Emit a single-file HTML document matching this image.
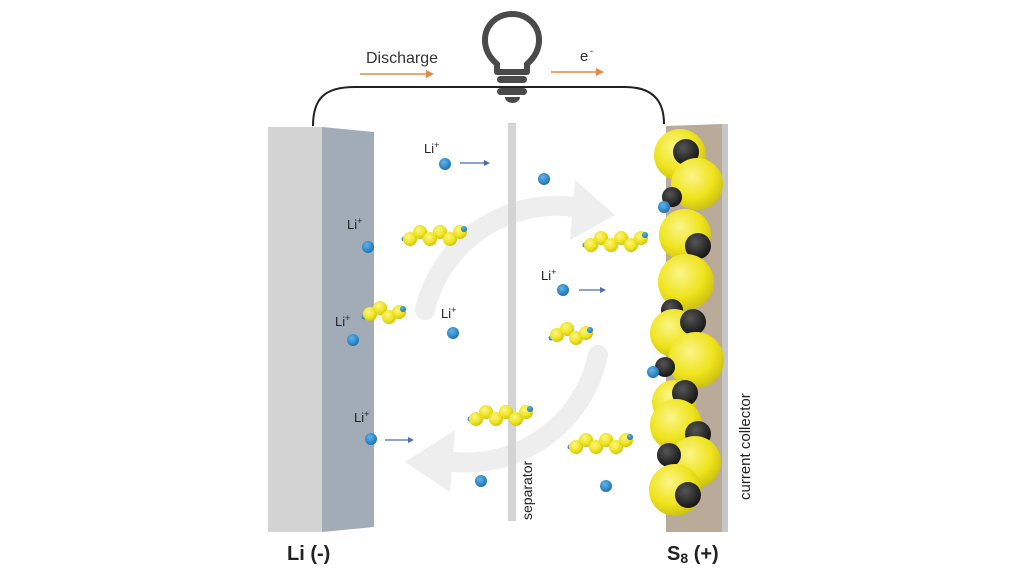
<!DOCTYPE html>
<html><head><style>html,body{margin:0;padding:0;background:#fff;}svg{display:block;font-family:"Liberation Sans",sans-serif;}</style></head>
<body>
<svg width="1024" height="576" viewBox="0 0 1024 576" xmlns="http://www.w3.org/2000/svg">
<defs>
<radialGradient id="y" cx="0.4" cy="0.35" r="0.7"><stop offset="0" stop-color="#fbf58a"/><stop offset="0.6" stop-color="#efe41c"/><stop offset="1" stop-color="#c9bd10"/></radialGradient>
<radialGradient id="k" cx="0.4" cy="0.35" r="0.7"><stop offset="0" stop-color="#555"/><stop offset="1" stop-color="#111"/></radialGradient>
<radialGradient id="b" cx="0.4" cy="0.35" r="0.7"><stop offset="0" stop-color="#5cb4ec"/><stop offset="1" stop-color="#1a6fb0"/></radialGradient>
<g id="chain5">
<circle cx="0" cy="5" r="2.5" fill="url(#b)"/>
<circle cx="6" cy="5" r="7" fill="url(#y)"/><circle cx="16" cy="-2" r="7" fill="url(#y)"/><circle cx="26" cy="5" r="7" fill="url(#y)"/><circle cx="36" cy="-2" r="7" fill="url(#y)"/><circle cx="46" cy="5" r="7" fill="url(#y)"/><circle cx="56" cy="-2" r="7" fill="url(#y)"/><circle cx="60" cy="-5" r="3" fill="url(#b)"/>
</g>
<g id="chain4">
<circle cx="0" cy="5" r="2.5" fill="url(#b)"/>
<circle cx="6" cy="2" r="7" fill="url(#y)"/><circle cx="16" cy="-4" r="7" fill="url(#y)"/><circle cx="25" cy="5" r="7" fill="url(#y)"/><circle cx="35" cy="0" r="7" fill="url(#y)"/><circle cx="39" cy="-3" r="3" fill="url(#b)"/>
</g>
</defs>

<!-- circular arrows -->
<g stroke="#eeeeee" stroke-width="20" fill="none" stroke-linecap="round">
<path d="M425,310 A135,135 0 0 1 590,210"/>
<path d="M598,355 A135,135 0 0 1 440,460"/>
</g>
<polygon points="575,180 615,215 570,240" fill="#eeeeee"/>
<polygon points="455,430 405,462 450,492" fill="#eeeeee"/>

<!-- wire -->
<path d="M313,126 C313,98 325,87 355,87 L625,87 C652,87 664,100 664,124" stroke="#222" stroke-width="2" fill="none"/>

<!-- bulb -->
<path d="M497,72 L497,64 C490,58 485,50 485,40 C485,25 497,14 512,14 C527,14 539,25 539,40 C539,50 534,58 527,64 L527,72 Z" fill="#fff" stroke="#4a4a4a" stroke-width="6" stroke-linejoin="round"/>
<rect x="497" y="76" width="30" height="7" rx="3.5" fill="#4a4a4a"/>
<rect x="497" y="88" width="30" height="7" rx="3.5" fill="#4a4a4a"/>
<path d="M505,97 L520,97 A7.5,6 0 0 1 505,97Z" fill="#4a4a4a"/>

<text x="366" y="63" font-size="16" fill="#333">Discharge</text>
<line x1="360" y1="74" x2="428" y2="74" stroke="#e08a45" stroke-width="1.5"/><polygon points="426,70 434,74 426,78" fill="#e08a45"/>
<text x="580" y="61" font-size="15" fill="#333">e</text><text x="590" y="54" font-size="9" fill="#333">-</text>
<line x1="551" y1="72" x2="597" y2="72" stroke="#e08a45" stroke-width="1.5"/><polygon points="596,68 604,72 596,76" fill="#e08a45"/>

<!-- Li electrode -->
<polygon points="268,127 322,127 322,532 268,532" fill="#d3d3d3"/>
<polygon points="322,127 374,132 374,527 322,532" fill="#a2acb7"/>
<text x="287" y="560" font-size="20" font-weight="bold" fill="#222">Li (-)</text>

<!-- separator -->
<rect x="508" y="123" width="8" height="398" fill="#d4d4d4"/>
<text transform="translate(532,520) rotate(-90)" font-size="14" fill="#222">separator</text>

<!-- cathode -->
<polygon points="666,126 722,124 722,532 666,532" fill="#b9aa9a"/>
<rect x="722" y="124" width="6" height="408" fill="#c6c6c6"/>
<g>
<circle cx="680" cy="155" r="26" fill="url(#y)"/>
<circle cx="686" cy="152" r="13" fill="url(#k)"/>
<circle cx="697" cy="184" r="26" fill="url(#y)"/>
<circle cx="672" cy="197" r="10" fill="url(#k)"/>
<circle cx="685" cy="235" r="26" fill="url(#y)"/>
<circle cx="698" cy="246" r="13" fill="url(#k)"/>
<circle cx="686" cy="282" r="28" fill="url(#y)"/>
<circle cx="672" cy="310" r="11" fill="url(#k)"/>
<circle cx="674" cy="333" r="24" fill="url(#y)"/>
<circle cx="693" cy="322" r="13" fill="url(#k)"/>
<circle cx="696" cy="360" r="28" fill="url(#y)"/>
<circle cx="665" cy="367" r="10" fill="url(#k)"/>
<circle cx="674" cy="402" r="22" fill="url(#y)"/>
<circle cx="685" cy="393" r="13" fill="url(#k)"/>
<circle cx="676" cy="425" r="26" fill="url(#y)"/>
<circle cx="698" cy="434" r="13" fill="url(#k)"/>
<circle cx="695" cy="462" r="26" fill="url(#y)"/>
<circle cx="669" cy="455" r="12" fill="url(#k)"/>
<circle cx="675" cy="490" r="26" fill="url(#y)"/>
<circle cx="688" cy="495" r="13" fill="url(#k)"/>
</g>
<text transform="translate(750,500) rotate(-90)" font-size="15" fill="#222">current collector</text>
<text x="667" y="560" font-size="20" font-weight="bold" fill="#222">S<tspan font-size="14" dy="3">8</tspan><tspan dy="-3"> (+)</tspan></text>

<!-- chains -->
<use href="#chain5" x="404" y="234"/>
<use href="#chain5" x="585" y="240"/>
<use href="#chain4" x="364" y="312"/>
<use href="#chain4" x="551" y="333"/>
<use href="#chain5" x="470" y="414"/>
<use href="#chain5" x="570" y="442"/>

<!-- Li+ ions -->
<g fill="url(#b)">
<circle cx="445" cy="164" r="6"/><circle cx="544" cy="179" r="6"/><circle cx="368" cy="247" r="6"/>
<circle cx="353" cy="340" r="6"/><circle cx="453" cy="333" r="6"/><circle cx="563" cy="290" r="6"/>
<circle cx="371" cy="439" r="6"/><circle cx="481" cy="481" r="6"/><circle cx="606" cy="486" r="6"/>
<circle cx="653" cy="372" r="6"/><circle cx="664" cy="207" r="6"/>
</g>
<g stroke="#4a6db0" stroke-width="1.2">
<line x1="460" y1="163" x2="486" y2="163"/><line x1="579" y1="290" x2="602" y2="290"/><line x1="385" y1="440" x2="410" y2="440"/>
</g>
<g fill="#4a6db0">
<polygon points="484,160 490,163 484,166"/><polygon points="600,287 606,290 600,293"/><polygon points="408,437 414,440 408,443"/>
</g>
<g font-size="13" fill="#222">
<text x="424" y="153">Li<tspan font-size="9" dy="-5">+</tspan></text>
<text x="347" y="229">Li<tspan font-size="9" dy="-5">+</tspan></text>
<text x="335" y="326">Li<tspan font-size="9" dy="-5">+</tspan></text>
<text x="441" y="318">Li<tspan font-size="9" dy="-5">+</tspan></text>
<text x="541" y="280">Li<tspan font-size="9" dy="-5">+</tspan></text>
<text x="354" y="422">Li<tspan font-size="9" dy="-5">+</tspan></text>
</g>
</svg>
</body></html>
